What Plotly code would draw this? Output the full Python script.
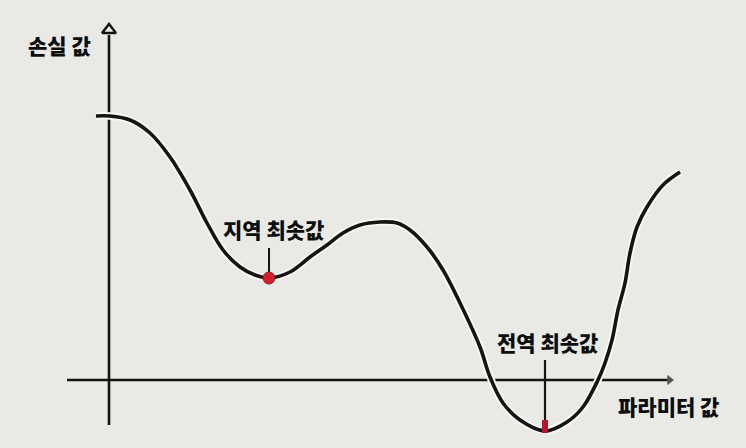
import plotly.graph_objects as go

# Loss curve (parameter value vs loss value)
param = [-0.26, 0.02, 0.42, 0.82, 1.22, 1.62, 1.96, 2.28, 2.62, 2.92, 3.20, 3.62, 4.02,
         4.36, 4.68, 5.02, 5.42, 5.76, 6.02, 6.36, 6.68, 7.02, 7.42, 7.62, 7.88, 8.22,
         8.72, 9.16, 9.48, 9.78, 9.92, 10.06, 10.18, 10.32, 10.42, 10.56, 10.76, 11.08, 11.42]
loss = [5.28, 5.28, 5.20, 4.94, 4.46, 3.80, 3.14, 2.60, 2.26, 2.10, 2.04, 2.16, 2.46,
        2.70, 2.94, 3.10, 3.16, 3.14, 3.00, 2.66, 2.20, 1.54, 0.66, 0.06, -0.46, -0.80,
        -1.02, -0.84, -0.54, 0.00, 0.34, 0.80, 1.40, 1.94, 2.54, 3.06, 3.46, 3.90, 4.16]

local_min = (3.20, 2.04)
global_min = (8.72, -1.02)

x_axis_span = [-0.84, 11.26]
y_axis_span = [-0.90, 6.90]

labels = {
    "y_title": "손실 값",
    "x_title": "파라미터 값",
    "local": "지역 최솟값",
    "global": "전역 최솟값",
}

BG = "#e9eae5"
INK = "#141414"
FONT = dict(family="Noto Sans CJK KR, Noto Sans, sans-serif", size=21, color="#0d0d0d", weight=900)

fig = go.Figure()

# axes
fig.add_trace(go.Scatter(x=x_axis_span, y=[0, 0], mode="lines",
                         line=dict(color=INK, width=2.6), hoverinfo="skip"))
fig.add_trace(go.Scatter(x=[0, 0], y=y_axis_span, mode="lines",
                         line=dict(color=INK, width=2.6), hoverinfo="skip"))
# arrow heads
fig.add_trace(go.Scatter(x=[0], y=[y_axis_span[1] + 0.1], mode="markers",
                         marker=dict(symbol="triangle-up-open", size=12, color=INK,
                                     line=dict(width=2.5, color=INK)), hoverinfo="skip"))
fig.add_trace(go.Scatter(x=[x_axis_span[1] - 0.05], y=[0], mode="markers",
                         marker=dict(symbol="triangle-right", size=9, color="#555555"),
                         hoverinfo="skip"))

# curve halo + curve
fig.add_trace(go.Scatter(x=param, y=loss, mode="lines", line_shape="spline",
                         line=dict(color="#f7f8f4", width=7.5), hoverinfo="skip"))
fig.add_trace(go.Scatter(x=param, y=loss, mode="lines", line_shape="spline",
                         line=dict(color=INK, width=3.6), hoverinfo="skip"))

# pointer ticks
fig.add_trace(go.Scatter(x=[local_min[0], local_min[0]], y=[2.64, local_min[1] + 0.12],
                         mode="lines", line=dict(color=INK, width=2), hoverinfo="skip"))
fig.add_trace(go.Scatter(x=[global_min[0], global_min[0]], y=[0.40, -0.80],
                         mode="lines", line=dict(color=INK, width=2.2), hoverinfo="skip"))

# minima markers
fig.add_trace(go.Scatter(x=[local_min[0]], y=[local_min[1]], mode="markers",
                         marker=dict(size=12, color="#d0202e", line=dict(width=1, color="#a01020")),
                         hoverinfo="skip"))
fig.add_trace(go.Scatter(x=[global_min[0], global_min[0]], y=[-0.80, global_min[1] - 0.04],
                         mode="lines", line=dict(color="#b8142a", width=6), hoverinfo="skip"))

# text labels
fig.add_annotation(x=-1.0, y=6.70, text=labels["y_title"], showarrow=False, font=FONT)
fig.add_annotation(x=11.18, y=-0.52, text=labels["x_title"], showarrow=False, font=FONT)
fig.add_annotation(x=3.28, y=3.02, text=labels["local"], showarrow=False, font=FONT,
                   bgcolor=BG, borderpad=0)
fig.add_annotation(x=8.76, y=0.76, text=labels["global"], showarrow=False, font=FONT)

fig.update_layout(
    width=746, height=448,
    margin=dict(l=0, r=0, t=0, b=0),
    paper_bgcolor=BG, plot_bgcolor=BG,
    showlegend=False,
    xaxis=dict(range=[-2.18, 12.74], visible=False, fixedrange=True),
    yaxis=dict(range=[-1.36, 7.60], visible=False, fixedrange=True),
)

fig.write_html("out.html", config={"displayModeBar": False},
               post_script="document.body.style.margin='0';document.body.style.overflow='hidden';")
